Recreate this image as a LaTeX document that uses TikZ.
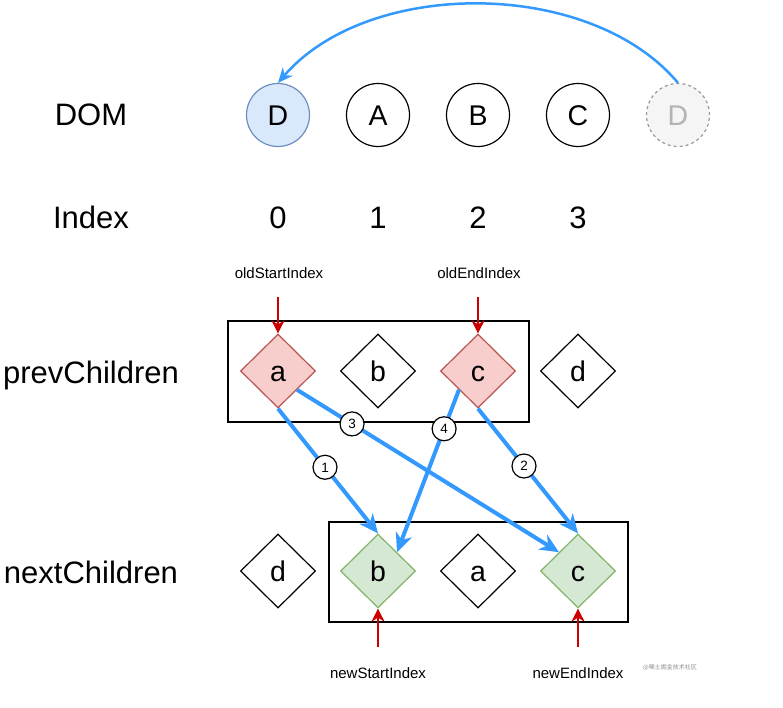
\documentclass[tikz,border=0pt]{standalone}
\usepackage{fontspec}
\setmainfont{Liberation Sans}
\newfontfamily\cjkfont{Noto Sans CJK SC}
\usetikzlibrary{shapes.geometric,arrows.meta}
\definecolor{blueline}{HTML}{3399FF}
\definecolor{redarrow}{HTML}{CC0000}
\definecolor{domfill}{HTML}{DAE8FC}
\definecolor{domdraw}{HTML}{6C8EBF}
\definecolor{redfill}{HTML}{F8CECC}
\definecolor{reddraw}{HTML}{B85450}
\definecolor{greenfill}{HTML}{D5E8D4}
\definecolor{greendraw}{HTML}{82B366}
\definecolor{ghostfill}{HTML}{F5F5F5}
\definecolor{ghostdraw}{HTML}{999999}
\definecolor{ghosttext}{HTML}{B3B3B3}
\begin{document}
\begin{tikzpicture}[x=1pt,y=-1pt,
  biglbl/.style={inner sep=0pt, text height=22pt, text depth=0pt, font=\fontsize{31}{36}\selectfont},
  smalllbl/.style={inner sep=0pt, text height=10.7pt, text depth=0pt, font=\fontsize{15}{18}\selectfont},
  domnode/.style={circle, draw=black, line width=1.2pt, fill=white, minimum size=63pt, inner sep=0pt,
     text height=20.4pt, text depth=0pt, font=\fontsize{28.5}{34}\selectfont},
  dia/.style={diamond, draw=black, line width=1.2pt, fill=white, minimum width=75pt, minimum height=74pt,
     inner sep=0pt, text height=20.4pt, text depth=0pt, font=\fontsize{28.5}{34}\selectfont},
  redd/.style={dia, fill=redfill, draw=reddraw},
  greend/.style={dia, fill=greenfill, draw=greendraw},
  groupbox/.style={rectangle, draw=black, line width=1.2pt, inner sep=0pt},
  bluearr/.style={draw=blueline, line width=4pt, -{Stealth[length=19pt, width=17pt, inset=6pt]}},
  arcarr/.style={draw=blueline, line width=2.5pt, -{Stealth[length=15pt, width=13pt, inset=5pt]}},
  redarr/.style={draw=redarrow, line width=2.6pt, -{Stealth[length=13pt, width=13pt, inset=4pt]}},
  num/.style={circle, draw=black, line width=1.2pt, fill=white, minimum size=24pt, inner sep=0pt,
     text height=9.6pt, text depth=0pt, font=\fontsize{13.5}{15}\selectfont}
]
\useasboundingbox (0,0) rectangle (783,708);

% left labels
\node[biglbl] (ldom) at (91,115) {DOM};
\node[biglbl] (lidx) at (91,218) {Index};
\node[biglbl] (lprev) at (91,372) {prevChildren};
\node[biglbl] (lnext) at (91,572) {nextChildren};

% DOM circles
\node[domnode, fill=domfill, draw=domdraw] (cD) at (278,115) {D};
\node[domnode] (cA) at (378,115) {A};
\node[domnode] (cB) at (478,115) {B};
\node[domnode] (cC) at (578,115) {C};
\node[domnode, fill=ghostfill, draw=ghostdraw, dash pattern=on 3pt off 3pt, text=ghosttext] (gD) at (678,115) {D};
\draw[arcarr] (gD.north) .. controls (590,-22) and (368,-22) .. (cD.north);

% index digits
\node[biglbl] (i0) at (278,218) {0};
\node[biglbl] (i1) at (378,218) {1};
\node[biglbl] (i2) at (478,218) {2};
\node[biglbl] (i3) at (578,218) {3};

% prevChildren
\node[groupbox, minimum width=301pt, minimum height=101pt] (pbox) at (378.5,371.5) {};
\node[redd] (pa) at (278,371) {a};
\node[dia] (pb) at (378,371) {b};
\node[redd] (pc) at (478,371) {c};
\node[dia] (pd) at (578,371) {d};

\node[smalllbl] (osi) at (279,273) {oldStartIndex};
\node[smalllbl] (oei) at (479,273) {oldEndIndex};
\coordinate (osiTail) at (278,297);
\coordinate (oeiTail) at (478,297);
\draw[redarr] (osiTail) -- (pa.north);
\draw[redarr] (oeiTail) -- (pc.north);

% nextChildren
\node[groupbox, minimum width=299pt, minimum height=100pt] (nbox) at (478.5,572) {};
\node[dia] (nd) at (278,571) {d};
\node[greend] (nb) at (378,571) {b};
\node[dia] (na) at (478,571) {a};
\node[greend] (nc) at (578,571) {c};

\node[smalllbl] (nsi) at (378,673) {newStartIndex};
\node[smalllbl] (nei) at (578,673) {newEndIndex};
\coordinate (nsiTail) at (378,647);
\coordinate (neiTail) at (578,647);
\draw[redarr] (nsiTail) -- (nb.south);
\draw[redarr] (neiTail) -- (nc.south);

% blue move arrows
\draw[bluearr] (pa.south) -- node[num, pos=0.47] {1} (nb.north);
\draw[bluearr] (pc.south) -- node[num, pos=0.46] {2} (nc.north);
\draw[bluearr] (pa.south east) -- node[num, pos=0.21] {3} (nc.north west);
\draw[bluearr] (pc.south west) -- node[num, pos=0.24] {4} (nb.north east);

% watermark
\node[inner sep=0pt, text=black!45, font=\cjkfont\fontsize{6}{7}\selectfont] (wm) at (670,667) {@稀土掘金技术社区};
\end{tikzpicture}
\end{document}
